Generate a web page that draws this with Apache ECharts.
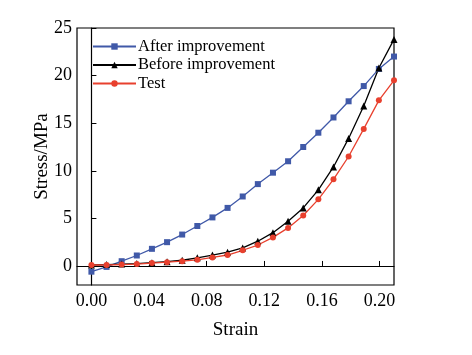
<!DOCTYPE html>
<html><head><meta charset="utf-8">
<script src="https://cdn.jsdelivr.net/npm/echarts@6/dist/echarts.min.js"></script>
<style>html,body{margin:0;padding:0;background:#fff}#c{width:472px;height:355px}</style>
</head><body><div id="c"></div>
<script>
var strain = [0,0.0105,0.021,0.0315,0.042,0.0525,0.063,0.0735,0.084,0.0945,0.105,0.1155,0.126,0.1365,0.147,0.1575,0.168,0.1785,0.189,0.1995,0.21];
var afterImp = [-0.6,-0.1,0.5,1.1,1.8,2.5,3.3,4.2,5.1,6.1,7.3,8.6,9.8,11.0,12.5,14.0,15.6,17.3,18.9,20.7,22.0];
var beforeImp = [0.1,0.15,0.2,0.25,0.35,0.45,0.6,0.85,1.15,1.45,1.9,2.6,3.5,4.7,6.1,8.0,10.4,13.4,16.8,20.8,23.8];
var test = [0.1,0.1,0.15,0.2,0.3,0.4,0.5,0.65,0.9,1.15,1.65,2.2,3.0,4.0,5.3,7.0,9.1,11.5,14.4,17.4,19.5];
var xTicks = [0,0.04,0.08,0.12,0.16,0.20];
var yTicks = [0,5,10,15,20,25];
var seriesNames = ['After improvement','Before improvement','Test'];

function pairs(ys){return strain.map(function(x,i){return [x,ys[i]];});}
var font = 'Liberation Serif';
var chart = echarts.init(document.getElementById('c'));
chart.setOption({
  animation:false,
  textStyle:{fontFamily:font},
  grid:{left:77,right:78,top:28,bottom:70},
  legend:{
    orient:'vertical',left:87,top:33,itemGap:1.5,itemWidth:43,itemHeight:8,
    textStyle:{fontFamily:font,fontSize:16.5,color:'#000',padding:[0,0,0,-3]},
    data:seriesNames
  },
  xAxis:{
    type:'value',min:-0.01,max:0.21,
    name:'Strain',nameLocation:'middle',nameGap:36,nameMoveOverlap:false,
    nameTextStyle:{fontFamily:font,fontSize:19,color:'#000'},
    axisLine:{show:true,lineStyle:{color:'#000',width:1.2}},
    axisTick:{show:true,inside:true,length:5,lineStyle:{color:'#000'},customValues:xTicks},
    axisLabel:{fontFamily:font,fontSize:18,color:'#000',margin:7,customValues:xTicks,
      formatter:function(v){return v.toFixed(2);}},
    splitLine:{show:false}
  },
  yAxis:{
    type:'value',min:-2,max:25,
    name:'Stress/MPa',nameLocation:'middle',nameGap:25,nameMoveOverlap:false,
    nameTextStyle:{fontFamily:font,fontSize:19,color:'#000'},
    axisLine:{show:true,lineStyle:{color:'#000',width:1.2}},
    axisTick:{show:true,inside:true,length:5,lineStyle:{color:'#000'},customValues:yTicks},
    axisLabel:{fontFamily:font,fontSize:18,color:'#000',margin:5,customValues:yTicks},
    splitLine:{show:false}
  },
  graphic:[{type:'rect',shape:{x:77,y:28,width:317,height:257},style:{fill:'none',stroke:'#000',lineWidth:1.2},silent:true}],
  series:[
    {name:seriesNames[0],type:'line',data:pairs(afterImp),symbol:'rect',symbolSize:6,
      itemStyle:{color:'#4059A8'},lineStyle:{color:'#4059A8',width:1.3}},
    {name:seriesNames[1],type:'line',data:pairs(beforeImp),symbol:'triangle',symbolSize:7,
      itemStyle:{color:'#000'},lineStyle:{color:'#000',width:1.3}},
    {name:seriesNames[2],type:'line',data:pairs(test),symbol:'circle',symbolSize:6,
      itemStyle:{color:'#E8402E'},lineStyle:{color:'#E8402E',width:1.3}}
  ]
});
</script></body></html>
